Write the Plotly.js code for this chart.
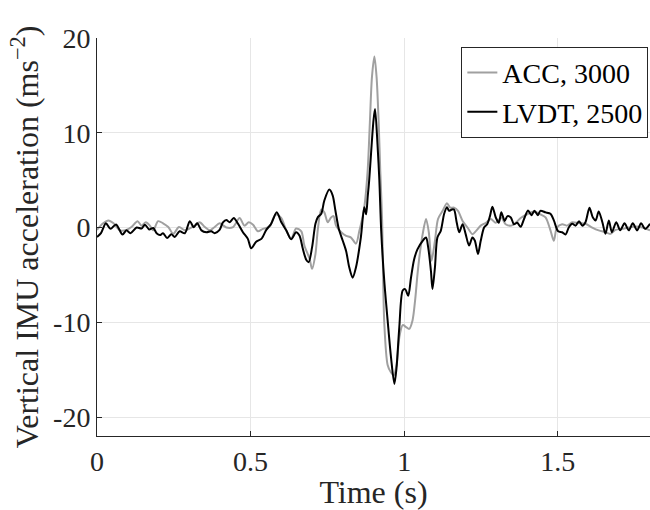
<!DOCTYPE html>
<html>
<head>
<meta charset="utf-8">
<script src="https://cdn.plot.ly/plotly-3.0.1.min.js"></script>
<style>html,body{margin:0;padding:0;background:#fff;}#chart{width:650px;height:510px;}</style>
</head>
<body>
<div id="chart"></div>
<script>
// ACC (grey) series
const accTime = [0.000,0.020,0.037,0.054,0.075,0.096,0.112,0.132,0.145,0.159,0.172,0.183,0.199,0.215,0.232,0.248,0.267,0.286,0.302,0.318,0.334,0.351,0.367,0.383,0.399,0.421,0.443,0.464,0.480,0.494,0.508,0.524,0.540,0.562,0.573,0.582,0.600,0.616,0.632,0.648,0.665,0.675,0.692,0.700,0.711,0.719,0.730,0.740,0.751,0.762,0.770,0.778,0.795,0.811,0.827,0.843,0.854,0.865,0.870,0.881,0.888,0.895,0.903,0.910,0.917,0.922,0.928,0.935,0.946,0.957,0.966,0.975,0.984,0.995,1.006,1.016,1.027,1.036,1.043,1.049,1.060,1.071,1.080,1.089,1.100,1.110,1.125,1.139,1.150,1.162,1.175,1.190,1.206,1.222,1.234,1.249,1.266,1.282,1.298,1.316,1.330,1.349,1.363,1.379,1.400,1.422,1.443,1.460,1.476,1.487,1.497,1.514,1.530,1.547,1.569,1.590,1.612,1.633,1.655,1.671,1.688,1.710,1.731,1.753,1.775,1.800];
const accValue = [-0.25,0.45,0.75,0.45,-0.3,-0.25,0.05,0.67,0.2,0.56,0.2,-0.3,0.67,0.45,0.05,-0.67,0.05,-0.3,-0.1,0.2,0.55,0.05,-0.3,0.05,0.45,0,0.05,1.0,0.2,0.55,0.3,-0.4,-0.14,0.1,0.9,1.4,1.0,-0.3,-1.2,-0.1,-0.4,-1.9,-3.3,-4.36,-2.8,-0.14,1.9,1.6,0.56,1.06,1.2,0.2,-0.5,-0.88,-1.06,-1.7,-0.35,1.2,2.1,6.0,10.95,15.9,18.06,15.9,10.95,6.0,0.8,-10.0,-14.5,-15.3,-15.6,-14.5,-11.6,-10.3,-10.5,-10.7,-9.8,-7.5,-5.0,-3.2,-0.7,0.9,-0.5,-3.5,-1.4,0.9,1.76,2.56,2.1,2.1,1.76,0.7,0,-0.7,-0.35,0.2,0.5,0.9,0.5,1.06,0.35,0.2,0.5,1.0,1.4,1.7,1.4,1.06,-0.3,-1.4,0,0.35,0.2,0.56,0.45,0.4,0,-0.3,-0.5,-0.67,-0.25,-0.14,0,0.1,0,-0.3];

// LVDT (black) series
const lvdtTime = [0.000,0.013,0.029,0.044,0.062,0.083,0.096,0.109,0.129,0.145,0.156,0.170,0.183,0.194,0.205,0.215,0.228,0.242,0.253,0.269,0.286,0.302,0.315,0.326,0.340,0.356,0.372,0.383,0.399,0.410,0.421,0.432,0.445,0.459,0.475,0.491,0.502,0.518,0.535,0.551,0.567,0.585,0.600,0.616,0.632,0.648,0.659,0.670,0.681,0.689,0.700,0.711,0.719,0.730,0.740,0.756,0.767,0.776,0.787,0.800,0.811,0.821,0.832,0.843,0.859,0.870,0.876,0.881,0.886,0.892,0.900,0.905,0.913,0.919,0.925,0.935,0.946,0.957,0.968,0.975,0.984,0.995,1.003,1.013,1.022,1.032,1.043,1.060,1.071,1.078,1.087,1.092,1.100,1.108,1.119,1.130,1.139,1.146,1.155,1.162,1.171,1.179,1.190,1.200,1.211,1.222,1.230,1.240,1.249,1.260,1.270,1.279,1.287,1.298,1.308,1.316,1.327,1.336,1.347,1.357,1.368,1.379,1.390,1.403,1.414,1.424,1.435,1.443,1.460,1.476,1.487,1.501,1.514,1.525,1.536,1.547,1.558,1.569,1.580,1.590,1.603,1.614,1.623,1.633,1.645,1.655,1.666,1.676,1.690,1.703,1.717,1.731,1.744,1.758,1.771,1.784,1.800];
const lvdtValue = [-1.0,-0.6,0.45,-0.14,0.33,-0.74,-0.3,-0.6,0,-0.1,0.3,-0.2,-0.05,-0.6,-0.8,-0.6,-1.1,-0.7,-1.0,-0.4,-0.6,0.67,0.03,0.45,-0.3,-0.5,-0.4,-0.6,-0.25,0.55,0.8,0.55,1.0,0.4,-0.5,-1.2,-2.2,-1.5,-1.2,-0.25,0.4,1.6,0.55,-0.3,-1.25,-0.5,-0.85,-2.25,-3.4,-3.65,-2.1,0.4,1.1,1.45,2.85,4.0,3.4,1.8,-0.14,-1.4,-2.5,-4.2,-5.3,-4.2,-1.0,2.15,1.4,3.2,5.0,7.8,11.3,12.5,8.8,5.0,-0.3,-5.6,-9.8,-13.7,-16.5,-14.8,-10.5,-6.65,-6.5,-7.2,-5.3,-3.4,-2.3,-1.4,-1.06,-2.1,-4.6,-6.5,-4.2,-1.06,-0.35,1.45,2.15,1.76,1.9,1.9,0.5,-0.5,0.35,-0.7,-1.9,-1.06,-1.4,-2.8,-1.4,0,0.35,1.2,2.2,1.06,0.5,1.6,0.7,1.2,1.06,0.35,0.5,0.07,0.9,1.8,1.3,1.76,1.3,1.76,1.6,1.45,0.75,-0.4,-0.5,-0.74,0.03,0.4,0.2,0.67,0.2,0.56,2.08,1.06,0.75,1.7,0.56,-0.67,0.75,-0.5,0.56,-0.3,0.45,-0.3,0.45,-0.3,0.45,-0.14,0.4];

const xTickVals = [0, 0.5, 1, 1.5];
const xTickText = ['0', '0.5', '1', '1.5'];
const yTickVals = [-20, -10, 0, 10, 20];
const yTickText = ['-20', '-10', '0', '10', '20'];
const seriesNames = ['ACC, 3000', 'LVDT, 2500'];

const FONT = 'Liberation Serif, DejaVu Serif, serif';

const traces = [
  {x: accTime, y: accValue, name: seriesNames[0], type: 'scatter', mode: 'lines',
   line: {color: '#a0a0a0', width: 2, shape: 'spline', smoothing: 0.8}},
  {x: lvdtTime, y: lvdtValue, name: seriesNames[1], type: 'scatter', mode: 'lines',
   line: {color: '#000000', width: 2, shape: 'spline', smoothing: 0.8}}
];

const layout = {
  width: 650, height: 510,
  margin: {l: 97, r: 0, t: 38, b: 74},
  paper_bgcolor: '#fff', plot_bgcolor: '#fff',
  font: {family: FONT, color: '#262626', size: 27},
  showlegend: true,
  legend: {x: 0.997, xanchor: 'right', y: 0.978, yanchor: 'top',
    bordercolor: '#262626', borderwidth: 1, bgcolor: '#fff',
    font: {family: FONT, size: 28, color: '#000'}, tracegroupgap: 0,
    itemwidth: 30},
  xaxis: {
    range: [0, 1.8], tickvals: xTickVals, ticktext: xTickText,
    showgrid: true, gridcolor: '#e6e6e6', gridwidth: 1,
    zeroline: false, showline: true, linecolor: '#262626', linewidth: 1,
    ticks: 'inside', ticklen: 5, tickcolor: '#262626',
    tickfont: {family: FONT, size: 28, color: '#262626'},
    title: {text: 'Time (s)', font: {family: FONT, size: 32, color: '#262626'}, standoff: 6}
  },
  yaxis: {
    range: [-22, 20], tickvals: yTickVals, ticktext: yTickText,
    showgrid: true, gridcolor: '#e6e6e6', gridwidth: 1,
    zeroline: false, showline: true, linecolor: '#262626', linewidth: 1,
    ticks: 'inside', ticklen: 5, tickcolor: '#262626',
    tickfont: {family: FONT, size: 28, color: '#262626'},
    title: {text: 'Vertical IMU acceleration (ms<sup>\u22122</sup>)', font: {family: FONT, size: 32, color: '#262626'}, standoff: 4}
  }
};

Plotly.newPlot('chart', traces, layout, {displayModeBar: false, staticPlot: true});
</script>
</body>
</html>
